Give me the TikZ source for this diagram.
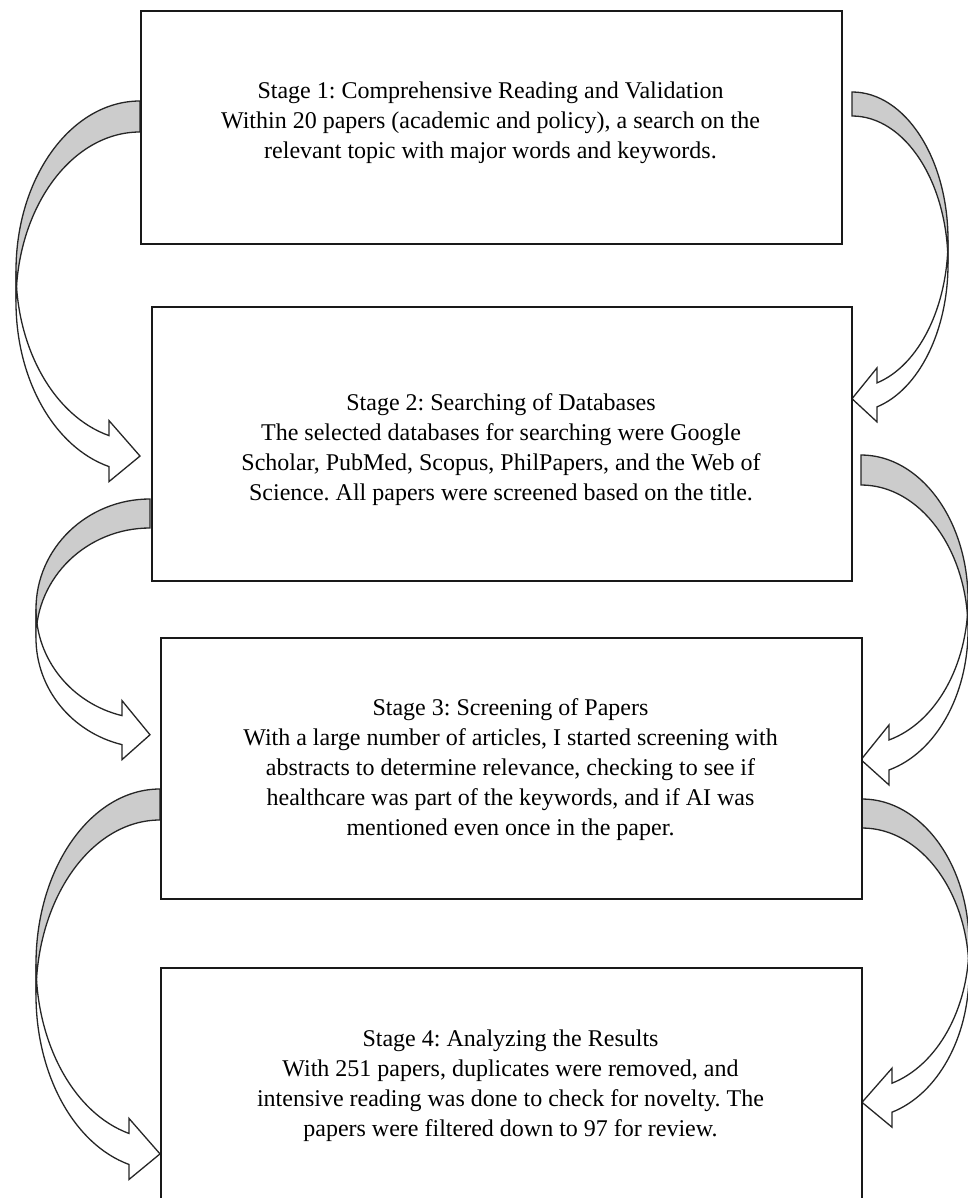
\documentclass[tikz,border=0pt]{standalone}
\usepackage{fontspec}
\setmainfont{Liberation Serif}

% Curved block arrow in a local frame: origin at the top of the back band,
% #1 = horizontal radius, #2 = vertical radius, #3 = band thickness, #4 = head length
\newcommand\bentarrow[4]{%
  \pgfmathsetmacro\bendang{acos(-(#4)/(#1))}%
  \pgfmathsetmacro\bendy{(#2)+(#2)*sin(\bendang)}%
  \path[backband] (0,0)
      arc[start angle=-90, end angle=-180, x radius=#1, y radius=#2]
      -- ++(0,#3)
      arc[start angle=180, end angle=270, x radius=#1, y radius=#2] -- cycle;
  \path[frontband] (-#1,#2)
      arc[start angle=180, end angle=\bendang, x radius=#1, y radius=#2]
      -- (-#4,\bendy-15) -- (0,\bendy+0.66*#3) -- (-#4,\bendy+#3+15)
      -- (-#4,\bendy+#3)
      arc[start angle=\bendang, end angle=180, x radius=#1, y radius=#2] -- cycle;
}

\tikzset{
  backband/.style={draw=black!85, fill=black!20, line width=1.3pt, line join=miter},
  frontband/.style={draw=black!85, fill=white, line width=1.3pt, line join=miter},
  stagebox/.style={draw=black!90, fill=white, line width=1.6pt, inner sep=0pt, anchor=north west},
  stagetext/.style={align=center, inner sep=0pt, font=\fontsize{24}{30}\selectfont\frenchspacing},
}

\begin{document}
\begin{tikzpicture}[x=1pt, y=-1pt]
\useasboundingbox (0,0) rectangle (968,1198);
\clip (0,0) rectangle (968,1198);
\fill[white] (0,0) rectangle (968,1198);

% connectors on the left side
\begin{scope}[shift={(140,101)}]\bentarrow{124}{170}{31}{31}\end{scope}
\begin{scope}[shift={(150,499)}]\bentarrow{114}{110}{29}{28}\end{scope}
\begin{scope}[shift={(160,789)}]\bentarrow{124}{175}{31}{31}\end{scope}

% connectors on the right side
\begin{scope}[shift={(852,92)}, xscale=-1]\bentarrow{96}{148}{24}{25}\end{scope}
\begin{scope}[shift={(861,455)}, xscale=-1]\bentarrow{107}{145}{30}{28}\end{scope}
\begin{scope}[shift={(862,799)}, xscale=-1]\bentarrow{107}{145}{29}{30}\end{scope}

% stage boxes
\node[stagebox, minimum width=701pt, minimum height=233pt] (s1) at (140,10) {};
\node[stagebox, minimum width=700pt, minimum height=274pt] (s2) at (151,306) {};
\node[stagebox, minimum width=701pt, minimum height=261pt] (s3) at (160,637) {};
\node[stagebox, minimum width=701pt, minimum height=260pt] (s4) at (160,967) {};

% stage texts
\node[stagetext] (t1) at (490.5,123) {Stage 1: Comprehensive Reading and Validation\\
Within 20 papers (academic and policy), a search on the\\
relevant topic with major words and keywords.};
\node[stagetext] (t2) at (501,450) {Stage 2: Searching of Databases\\
The selected databases for searching were Google\\
Scholar, PubMed, Scopus, PhilPapers, and the Web of\\
Science. All papers were screened based on the title.};
\node[stagetext] (t3) at (510.5,770) {Stage 3: Screening of Papers\\
With a large number of articles, I started screening with\\
abstracts to determine relevance, checking to see if\\
healthcare was part of the keywords, and if AI was\\
mentioned even once in the paper.};
\node[stagetext] (t4) at (510.5,1086) {Stage 4: Analyzing the Results\\
With 251 papers, duplicates were removed, and\\
intensive reading was done to check for novelty. The\\
papers were filtered down to 97 for review.};
\end{tikzpicture}
\end{document}
